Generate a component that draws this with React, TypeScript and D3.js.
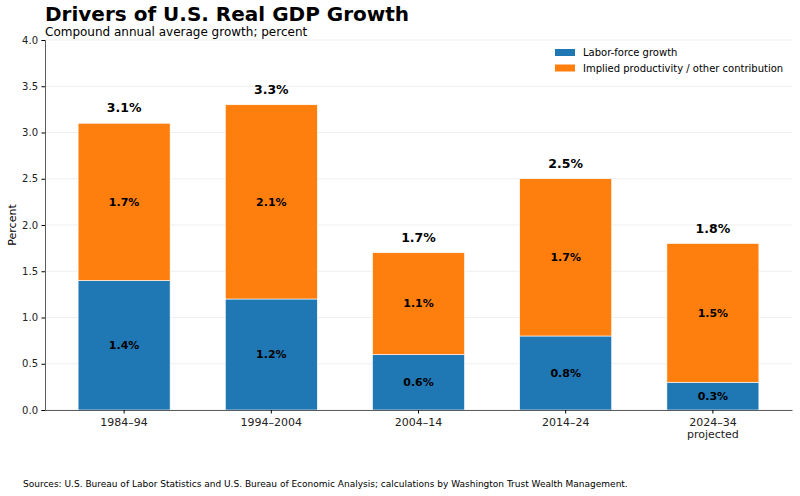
import * as d3 from "d3";
import { useEffect, useRef } from "react";

// periods and contributions, percent
const periods = ["1984–94", "1994–2004", "2004–14", "2014–24", "2024–34\nprojected"];
const laborForce = [1.4, 1.2, 0.6, 0.8, 0.3];
const productivity = [1.7, 2.1, 1.1, 1.7, 1.5];
const totals = [3.1, 3.3, 1.7, 2.5, 1.8];
const yTicks = [0, 0.5, 1, 1.5, 2, 2.5, 3, 3.5, 4];
const seriesNames = ["Labor-force growth", "Implied productivity / other contribution"];
const colors = ["#1f77b4", "#ff7f0e"];

const width = 800;
const height = 496;
const margin = { top: 40, right: 8, bottom: 86, left: 45 };
const font = "DejaVu Sans, sans-serif";

export default function App() {
  const ref = useRef<SVGSVGElement>(null);

  useEffect(() => {
    if (!ref.current) return;
    const svg = d3.select(ref.current);
    svg.selectAll("*").remove();

    const x = d3
      .scaleBand()
      .domain(periods)
      .range([margin.left, width - margin.right])
      .paddingInner(0.375)
      .paddingOuter(0.225);

    const y = d3
      .scaleLinear()
      .domain([0, 4])
      .range([height - margin.bottom, margin.top]);

    // grid
    svg
      .append("g")
      .selectAll("line")
      .data(yTicks)
      .join("line")
      .attr("x1", margin.left)
      .attr("x2", width - margin.right)
      .attr("y1", (d) => y(d))
      .attr("y2", (d) => y(d))
      .attr("stroke", "#ebebeb")
      .attr("stroke-width", 0.8);

    const stacked = periods.map((p, i) => ({
      p,
      segs: [
        { y0: 0, y1: laborForce[i], v: laborForce[i], c: colors[0] },
        { y0: laborForce[i], y1: laborForce[i] + productivity[i], v: productivity[i], c: colors[1] },
      ],
      total: totals[i],
    }));

    const groups = svg.append("g").selectAll("g").data(stacked).join("g");

    groups
      .selectAll("rect")
      .data((d) => d.segs.map((s) => ({ ...s, p: d.p })))
      .join("rect")
      .attr("x", (d) => x(d.p)!)
      .attr("width", x.bandwidth())
      .attr("y", (d) => y(d.y1))
      .attr("height", (d) => y(d.y0) - y(d.y1))
      .attr("fill", (d) => d.c)
      .attr("stroke", "white")
      .attr("stroke-width", 0.6);

    groups
      .selectAll("text.seg")
      .data((d) => d.segs.map((s) => ({ ...s, p: d.p })))
      .join("text")
      .attr("class", "seg")
      .attr("x", (d) => x(d.p)! + x.bandwidth() / 2)
      .attr("y", (d) => y((d.y0 + d.y1) / 2))
      .attr("dy", "0.35em")
      .attr("text-anchor", "middle")
      .attr("font-family", font)
      .attr("font-weight", "bold")
      .attr("font-size", 11)
      .text((d) => `${d.v.toFixed(1)}%`);

    groups
      .append("text")
      .attr("x", (d) => x(d.p)! + x.bandwidth() / 2)
      .attr("y", (d) => y(d.total) - 11)
      .attr("text-anchor", "middle")
      .attr("font-family", font)
      .attr("font-weight", "bold")
      .attr("font-size", 12.5)
      .text((d) => `${d.total.toFixed(1)}%`);

    // axes
    const yAxis = svg
      .append("g")
      .attr("transform", `translate(${margin.left},0)`)
      .call(d3.axisLeft(y).tickValues(yTicks).tickFormat(d3.format(".1f")).tickSize(3.5).tickPadding(3.5));
    yAxis.select(".domain").attr("stroke", "#333").attr("stroke-width", 0.8);
    yAxis.selectAll("text").attr("font-family", font).attr("font-size", 10).attr("fill", "#222");

    const xAxis = svg
      .append("g")
      .attr("transform", `translate(0,${height - margin.bottom})`)
      .call(d3.axisBottom(x).tickSize(3.5).tickPadding(5).tickSizeOuter(0));
    xAxis.select(".domain").attr("stroke", "#333").attr("stroke-width", 0.8);
    xAxis.selectAll<SVGTextElement, string>("text").each(function (d) {
      const t = d3.select(this);
      t.text(null).attr("font-family", font).attr("font-size", 11).attr("fill", "#222");
      d.split("\n").forEach((line, i) => {
        t.append("tspan").attr("x", 0).attr("dy", i === 0 ? "0.71em" : "1.1em").text(line);
      });
    });

    // y label
    svg
      .append("text")
      .attr("transform", `translate(16,${y(2)}) rotate(-90)`)
      .attr("text-anchor", "middle")
      .attr("font-family", font)
      .attr("font-size", 11)
      .text("Percent");

    // legend
    const legend = svg.append("g").attr("transform", "translate(555,48)");
    seriesNames.forEach((name, i) => {
      legend
        .append("rect")
        .attr("x", 0)
        .attr("y", i * 15.5 + 1)
        .attr("width", 20)
        .attr("height", 7)
        .attr("fill", colors[i]);
      legend
        .append("text")
        .attr("x", 28)
        .attr("y", i * 15.5 + 4.5)
        .attr("dy", "0.35em")
        .attr("font-family", font)
        .attr("font-size", 10)
        .text(name);
    });

    // titles
    svg
      .append("text")
      .attr("x", 45)
      .attr("y", 21)
      .attr("font-family", font)
      .attr("font-weight", "bold")
      .attr("font-size", 20)
      .text("Drivers of U.S. Real GDP Growth");
    svg
      .append("text")
      .attr("x", 45)
      .attr("y", 36)
      .attr("font-family", font)
      .attr("font-size", 12)
      .text("Compound annual average growth; percent");

    svg
      .append("text")
      .attr("x", 23)
      .attr("y", 487)
      .attr("font-family", font)
      .attr("font-size", 9)
      .text(
        "Sources: U.S. Bureau of Labor Statistics and U.S. Bureau of Economic Analysis; calculations by Washington Trust Wealth Management."
      );
  }, []);

  return (
    <svg
      ref={ref}
      width={width}
      height={height}
      style={{ position: "absolute", left: 0, top: 0, background: "white" }}
    />
  );
}
